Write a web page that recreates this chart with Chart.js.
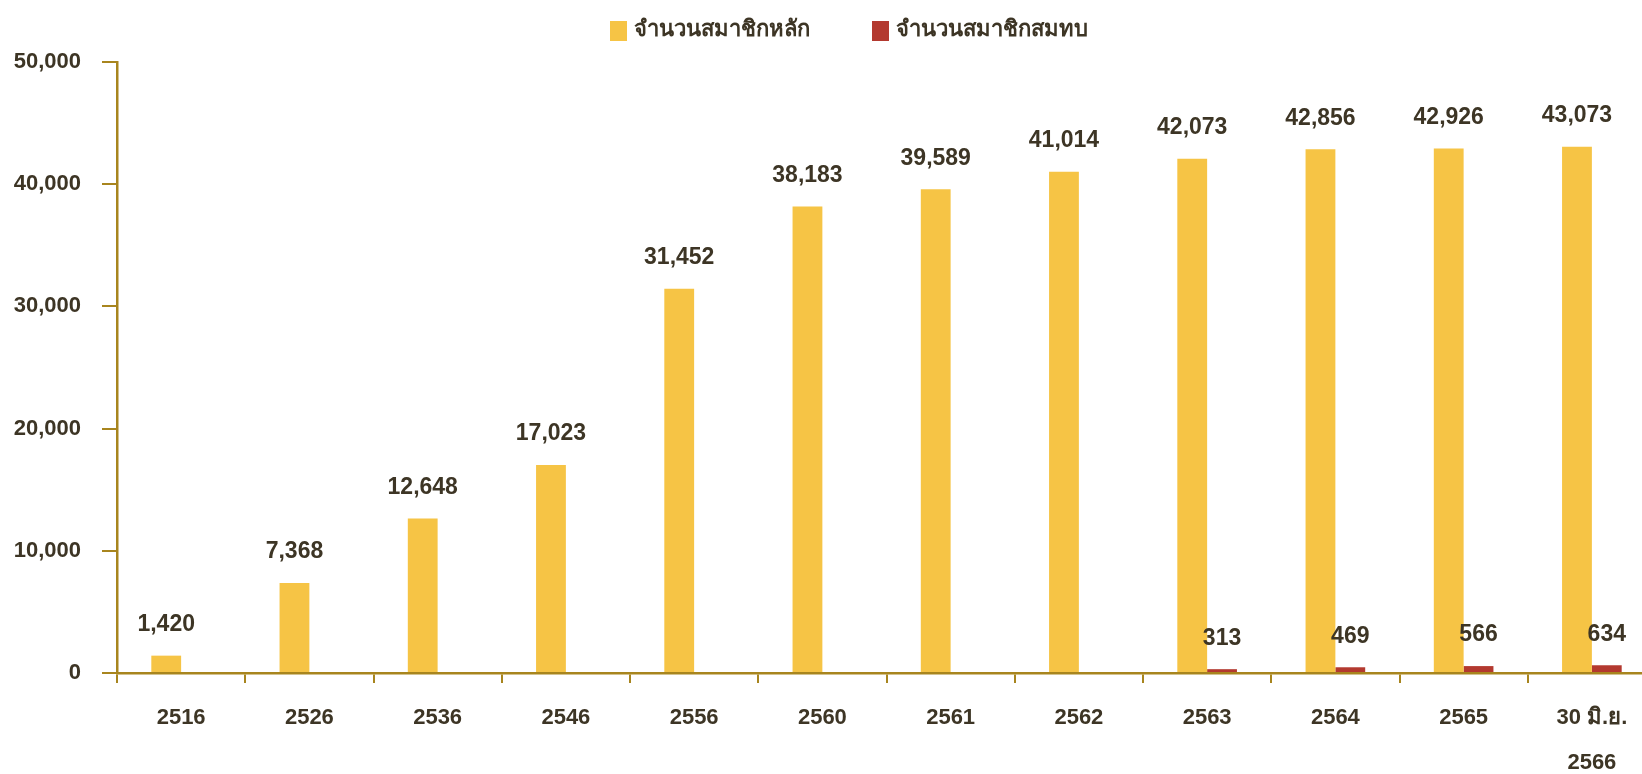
<!DOCTYPE html>
<html>
<head>
<meta charset="utf-8">
<script src="https://cdn.jsdelivr.net/npm/chart.js@4/dist/chart.umd.min.js"></script>
<style>
html,body{margin:0;padding:0;background:#fff;overflow:hidden;}
#wrap{width:1660px;height:774px;}
</style>
</head>
<body>
<div id="wrap"><canvas id="c" width="1660" height="774"></canvas></div>
<script>
const categories = ['2516','2526','2536','2546','2556','2560','2561','2562','2563','2564','2565',['30 มิ.ย.','2566']];
const mainMembers = [1420,7368,12648,17023,31452,38183,39589,41014,42073,42856,42926,43073];
const associateMembers = [null,null,null,null,null,null,null,null,313,469,566,634];
const seriesNames = ['จำนวนสมาชิกหลัก','จำนวนสมาชิกสมทบ'];
const yTicks = [0,10000,20000,30000,40000,50000];

const YELLOW = '#F6C445';
const RED = '#B3392F';
const AXIS = '#A8851E';
const TEXT = '#3D3525';
const FONT = '"Liberation Sans", Arial, sans-serif';

const valueLabels = {
  id: 'valueLabels',
  afterDatasetsDraw(chart) {
    const ctx = chart.ctx;
    ctx.save();
    ctx.font = 'bold 23px ' + FONT;
    ctx.fillStyle = TEXT;
    ctx.textAlign = 'center';
    ctx.textBaseline = 'middle';
    chart.data.datasets.forEach((ds, i) => {
      const meta = chart.getDatasetMeta(i);
      meta.data.forEach((bar, j) => {
        const v = ds.data[j];
        if (v === null || v === undefined) return;
        ctx.fillText(v.toLocaleString('en-US'), bar.x, bar.y - 31);
      });
    });
    ctx.restore();
  }
};

const customLegend = {
  id: 'customLegend',
  afterDraw(chart) {
    const ctx = chart.ctx;
    const items = [
      {x: 610, color: YELLOW, text: seriesNames[0]},
      {x: 872, color: RED, text: seriesNames[1]}
    ];
    ctx.save();
    ctx.font = 'bold 22px ' + FONT;
    ctx.textBaseline = 'middle';
    ctx.textAlign = 'left';
    items.forEach(it => {
      ctx.fillStyle = it.color;
      ctx.fillRect(it.x, 21, 17, 20);
      ctx.fillStyle = TEXT;
      ctx.fillText(it.text, it.x + 24, 30);
    });
    ctx.restore();
  }
};

new Chart(document.getElementById('c'), {
  type: 'bar',
  data: {
    labels: categories,
    datasets: [
      {label: seriesNames[0], data: mainMembers, backgroundColor: YELLOW, categoryPercentage: 0.465, barPercentage: 1.0},
      {label: seriesNames[1], data: associateMembers, backgroundColor: RED, categoryPercentage: 0.465, barPercentage: 1.0}
    ]
  },
  options: {
    responsive: false,
    animation: false,
    layout: {padding: {top: 62, left: 0, right: 4, bottom: 0}},
    plugins: {legend: {display: false}, tooltip: {enabled: false}},
    scales: {
      x: {
        offset: true,
        border: {color: AXIS, width: 2.5},
        grid: {offset: true, drawOnChartArea: false, drawTicks: true, tickLength: 10, color: AXIS, lineWidth: 2},
        ticks: {color: TEXT, font: {family: FONT, size: 22, weight: 'bold', lineHeight: '45px'}, padding: 12, maxRotation: 0, autoSkip: false},
        afterFit(s) { s.height = 101; }
      },
      y: {
        min: 0, max: 50000,
        afterBuildTicks(s) { s.ticks = yTicks.map(v => ({value: v})); },
        border: {color: AXIS, width: 2.5},
        grid: {drawOnChartArea: false, drawTicks: true, tickLength: 15, color: AXIS, lineWidth: 2},
        ticks: {color: TEXT, font: {family: FONT, size: 22, weight: 'bold'}, padding: 21,
          callback: v => v.toLocaleString('en-US')},
        afterFit(s) { s.width = 117; }
      }
    }
  },
  plugins: [valueLabels, customLegend]
});
</script>
</body>
</html>
